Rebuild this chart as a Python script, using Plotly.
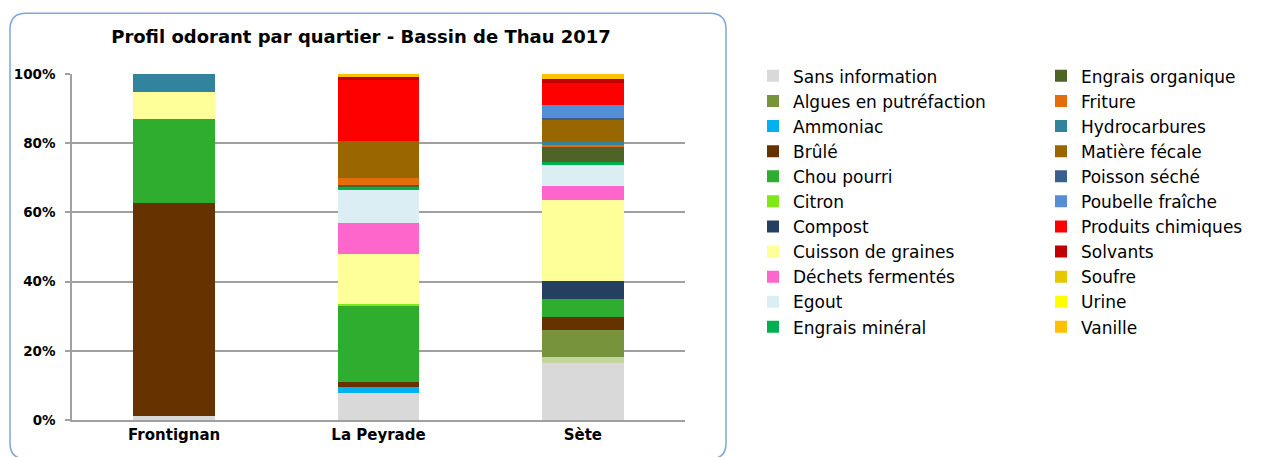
import plotly.graph_objects as go

quartiers = ["Frontignan", "La Peyrade", "Sète"]

series_names = [
    "Sans information", "Autre", "Algues en putréfaction", "Ammoniac", "Brûlé",
    "Chou pourri", "Citron", "Compost", "Cuisson de graines", "Déchets fermentés",
    "Egout", "Engrais minéral", "Engrais organique", "Friture", "Hydrocarbures",
    "Matière fécale", "Poisson séché", "Poubelle fraîche", "Produits chimiques",
    "Solvants", "Soufre", "Urine", "Vanille",
]

# values in % for Frontignan, La Peyrade, Sète
sans_information = [1.2, 7.7, 16.4]
autre = [0.0, 0.0, 1.9]
algues = [0.0, 0.0, 7.7]
ammoniac = [0.0, 1.9, 0.0]
brule = [61.4, 1.5, 3.7]
chou_pourri = [24.5, 22.0, 5.4]
citron = [0.0, 0.5, 0.0]
compost = [0.0, 0.0, 5.0]
cuisson = [7.6, 14.5, 23.5]
dechets = [0.0, 8.7, 3.9]
egout = [0.0, 9.6, 6.2]
engrais_mineral = [0.0, 1.2, 0.8]
engrais_organique = [0.0, 0.4, 4.6]
friture = [0.0, 1.9, 0.4]
hydrocarbures = [5.3, 0.0, 0.9]
matiere_fecale = [0.0, 10.6, 6.3]
poisson_seche = [0.0, 0.0, 0.6]
poubelle = [0.0, 0.0, 3.8]
produits_chimiques = [0.0, 17.7, 6.4]
solvants = [0.0, 1.0, 1.2]
soufre = [0.0, 0.0, 0.0]
urine = [0.0, 0.0, 0.0]
vanille = [0.0, 0.7, 1.4]

series_values = [
    sans_information, autre, algues, ammoniac, brule, chou_pourri, citron, compost,
    cuisson, dechets, egout, engrais_mineral, engrais_organique, friture,
    hydrocarbures, matiere_fecale, poisson_seche, poubelle, produits_chimiques,
    solvants, soufre, urine, vanille,
]

colors = [
    "#D9D9D9", "#C3D69B", "#77933C", "#00B0F0", "#663300", "#2EAD2E", "#7FE817",
    "#243F60", "#FFFF99", "#FF66CC", "#DAEEF3", "#00B050", "#4F6228", "#E46C0A",
    "#31849B", "#996600", "#3A5F8E", "#558ED5", "#FF0000", "#C00000", "#E6C800",
    "#FFFF00", "#FFC000",
]

y_ticks = [0, 20, 40, 60, 80, 100]
y_tick_labels = ["0%", "20%", "40%", "60%", "80%", "100%"]

FONT = "DejaVu Sans, Arial, sans-serif"

fig = go.Figure()
legend_idx = 0
for name, vals, col in zip(series_names, series_values, colors):
    show = name != "Autre"
    lg = "legend"
    if show:
        lg = "legend" if legend_idx < 11 else "legend2"
        legend_idx += 1
    fig.add_trace(go.Bar(
        x=quartiers, y=vals, name=name, marker=dict(color=col, line=dict(width=0)),
        showlegend=show, legend=lg,
    ))

W, H = 1262, 457
L, R, T, B = 72, 685, 73.7, 420.0


def px(x):
    return (x - L) / (R - L)


def py(y):
    return (B - y) / (B - T)


# rounded border box
x0, x1, y0, y1, r = 10, 726, 13, 459, 16
path = (
    f"M {px(x0 + r)},{py(y0)} L {px(x1 - r)},{py(y0)} "
    f"Q {px(x1)},{py(y0)} {px(x1)},{py(y0 + r)} "
    f"L {px(x1)},{py(y1 - r)} Q {px(x1)},{py(y1)} {px(x1 - r)},{py(y1)} "
    f"L {px(x0 + r)},{py(y1)} Q {px(x0)},{py(y1)} {px(x0)},{py(y1 - r)} "
    f"L {px(x0)},{py(y0 + r)} Q {px(x0)},{py(y0)} {px(x0 + r)},{py(y0)} Z"
)

legend_font = dict(size=17, family=FONT, color="#000000")

fig.update_layout(
    width=W, height=H,
    margin=dict(l=L, r=W - R, t=T, b=H - B, pad=0),
    barmode="stack", bargap=0.6,
    paper_bgcolor="white", plot_bgcolor="white",
    font=dict(family=FONT, color="#000000"),
    title=dict(text="<b>Profil odorant par quartier - Bassin de Thau 2017</b>",
               xref="container", x=361 / W, xanchor="center",
               yref="container", y=1 - 37 / H, yanchor="middle",
               font=dict(size=18, family=FONT, color="#000000")),
    shapes=[dict(type="path", path=path, xref="paper", yref="paper",
                 line=dict(color="#7EA6D9", width=1.5), fillcolor="rgba(0,0,0,0)",
                 layer="below")],
    legend=dict(x=px(753), xanchor="left", y=py(58), yanchor="top",
                font=legend_font, maxheight=440,
                bgcolor="rgba(0,0,0,0)", traceorder="normal", tracegroupgap=0),
    legend2=dict(x=px(1041), xanchor="left", y=py(58), yanchor="top",
                 font=legend_font, maxheight=440,
                 bgcolor="rgba(0,0,0,0)", traceorder="normal", tracegroupgap=0),
    xaxis=dict(showline=True, linecolor="#A0A0A0", linewidth=1.5,
               ticks="", tickfont=dict(size=15, family=FONT, color="#000000"),
               tickprefix="<b>", ticksuffix="</b>", showgrid=False),
    yaxis=dict(range=[0, 100], tickvals=y_ticks,
               ticktext=[f"<b>{t}</b>" for t in y_tick_labels],
               showline=True, linecolor="#A0A0A0", linewidth=1.5,
               showgrid=True, gridcolor="#A0A0A0", gridwidth=1.5,
               ticks="outside", ticklen=5, tickcolor="#A0A0A0", tickwidth=1.5,
               ticklabelstandoff=7,
               tickfont=dict(size=13.5, family=FONT, color="#000000"), zeroline=False),
)

fig.write_html("out.html", config={"displayModeBar": False},
               post_script="document.body.style.margin='0px';")
